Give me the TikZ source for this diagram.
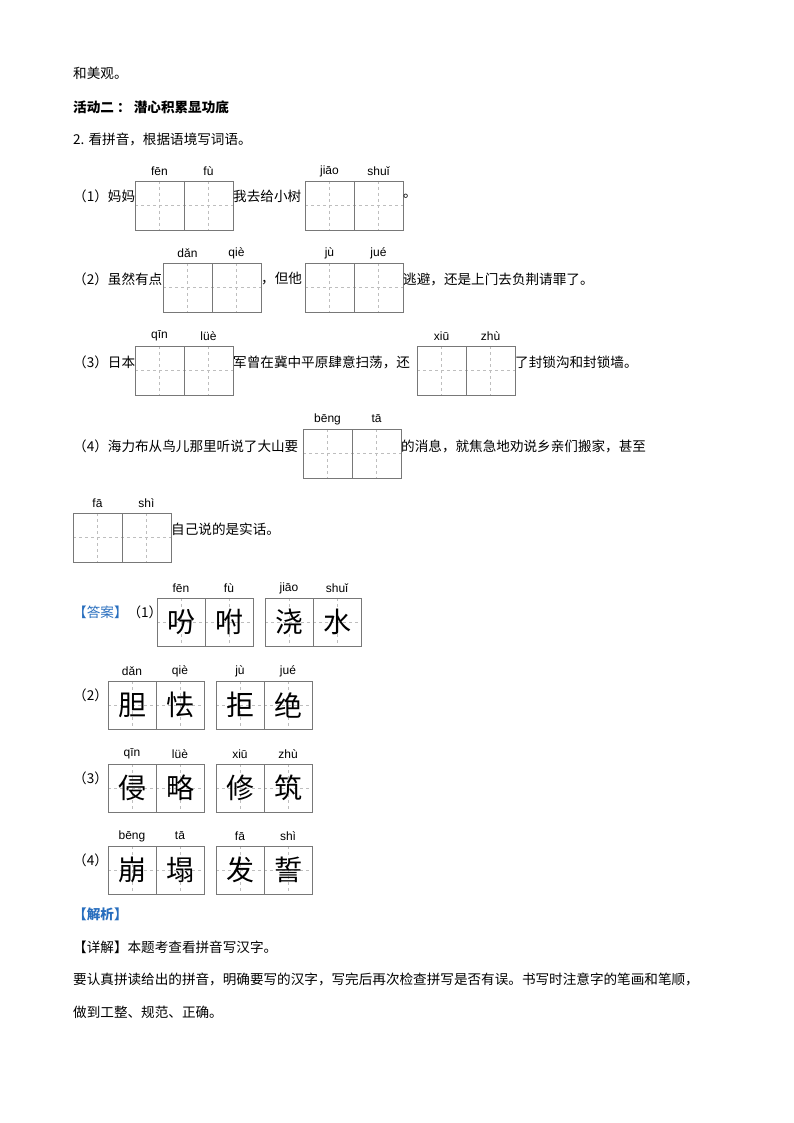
\documentclass[tikz,border=0pt]{standalone}
\usepackage{fontspec}
\setmainfont{Noto Sans CJK SC}
\newfontfamily\pyfont{Liberation Sans}
\usetikzlibrary{positioning}
\definecolor{ansblue}{RGB}{40,110,190}
\definecolor{gridgray}{RGB}{120,120,120}
\definecolor{dashgray}{RGB}{190,190,190}
% cell pair: name, x, y (top), cell size, pinyin 1, pinyin 2, char 1, char 2
\newcommand{\tzpair}[8]{%
  \draw[dashgray,dashed] (#2,#3+#4/2) -- (#2+2*#4,#3+#4/2)
    (#2+#4/2,#3) -- (#2+#4/2,#3+#4) (#2+1.5*#4,#3) -- (#2+1.5*#4,#3+#4);
  \draw[gridgray] (#2,#3) rectangle (#2+2*#4,#3+#4) (#2+#4,#3) -- (#2+#4,#3+#4);
  \node[py] (#1p1) at (#2+#4/2,#3-10) {#5};
  \node[py] (#1p2) at (#2+1.5*#4,#3-10) {#6};
  \node[hz] (#1c1) at (#2+#4/2,#3+#4/2) {#7};
  \node[hz] (#1c2) at (#2+1.5*#4,#3+#4/2) {#8};
}
\begin{document}
\begin{tikzpicture}[x=1pt,y=-1pt,
  txt/.style={anchor=west,inner sep=0pt,font=\fontsize{13.6}{15}\selectfont},
  py/.style={inner sep=0pt,font=\pyfont\fontsize{12}{14}\selectfont},
  hz/.style={inner sep=0pt,font=\fontsize{28}{30}\selectfont}]
\useasboundingbox[fill=white] (0,0) rectangle (794,1123);

\node[txt] (l0) at (73,73) {和美观。};
\node[txt,font=\fontsize{13.6}{15}\selectfont\bfseries] (h2) at (73,107) {活动二 ：\ 潜心积累显功底};
\node[txt] (q2) at (73,139) {2. 看拼音，根据语境写词语。};

% questions
\node[txt] (q1a) at (73,196) {（1）妈妈};
\tzpair{g1a}{135}{181}{49}{fēn}{fù}{}{}
\node[txt] (q1b) at (233,196) {我去给小树};
\tzpair{g1b}{305}{181}{49}{jiāo}{shuǐ}{}{}
\node[txt] (q1c) at (403,196) {。};

\node[txt] (q2a) at (73,279) {（2）虽然有点};
\tzpair{g2a}{163}{263}{49}{dǎn}{qiè}{}{}
\node[txt] (q2b) at (261,279) {，但他};
\tzpair{g2b}{305}{263}{49}{jù}{jué}{}{}
\node[txt] (q2c) at (403,279) {逃避，还是上门去负荆请罪了。};

\node[txt] (q3a) at (73,362) {（3）日本};
\tzpair{g3a}{135}{346}{49}{qīn}{lüè}{}{}
\node[txt] (q3b) at (233,362) {军曾在冀中平原肆意扫荡，还};
\tzpair{g3b}{417}{346}{49}{xiū}{zhù}{}{}
\node[txt] (q3c) at (515,362) {了封锁沟和封锁墙。};

\node[txt] (q4a) at (73,446) {（4）海力布从鸟儿那里听说了大山要};
\tzpair{g4a}{303}{429}{49}{bēng}{tā}{}{}
\node[txt] (q4b) at (401,446) {的消息，就焦急地劝说乡亲们搬家，甚至};
\tzpair{g4b}{73}{513}{49}{fā}{shì}{}{}
\node[txt] (q4c) at (171,529) {自己说的是实话。};

% answers
\node[txt] (a1) at (73,612) {\textcolor{ansblue}{【答案】}（1）};
\tzpair{r1a}{157}{598}{48}{fēn}{fù}{吩}{咐}
\tzpair{r1b}{265}{598}{48}{jiāo}{shuǐ}{浇}{水}
\node[txt] (a2) at (73,695) {（2）};
\tzpair{r2a}{108}{681}{48}{dǎn}{qiè}{胆}{怯}
\tzpair{r2b}{216}{681}{48}{jù}{jué}{拒}{绝}
\node[txt] (a3) at (73,778) {（3）};
\tzpair{r3a}{108}{764}{48}{qīn}{lüè}{侵}{略}
\tzpair{r3b}{216}{764}{48}{xiū}{zhù}{修}{筑}
\node[txt] (a4) at (73,860) {（4）};
\tzpair{r4a}{108}{846}{48}{bēng}{tā}{崩}{塌}
\tzpair{r4b}{216}{846}{48}{fā}{shì}{发}{誓}

\node[txt,font=\fontsize{13.6}{15}\selectfont\bfseries,text=ansblue] (jx) at (73,914) {【解析】};
\node[txt] (xj) at (73,947) {【详解】本题考查看拼音写汉字。};
\node[txt] (e1) at (73,979) {要认真拼读给出的拼音，明确要写的汉字，写完后再次检查拼写是否有误。书写时注意字的笔画和笔顺，};
\node[txt] (e2) at (73,1012) {做到工整、规范、正确。};
\end{tikzpicture}
\end{document}
